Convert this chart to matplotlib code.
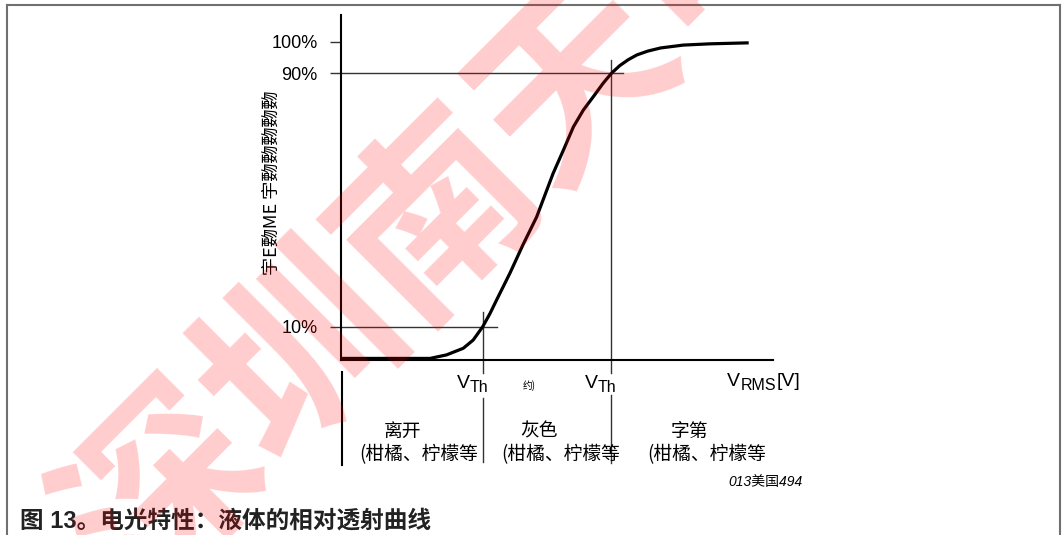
import matplotlib.pyplot as plt
from matplotlib.lines import Line2D

plt.rcParams['font.family'] = ['Liberation Sans', 'Noto Sans CJK SC', 'DejaVu Sans']

# transmission curve (relative voltage vs. relative transmission %)
volt = [0.0, 20.6, 24.4, 28.3, 30.6, 32.8, 34.5, 36.0, 39.1, 42.1, 45.3,
        49.1, 51.5, 53.8, 56.1, 58.4, 60.7, 62.6, 64.5, 66.5, 68.5, 71.0,
        74.0, 79.2, 85.4, 94.0]
trans = [0.0, 0.0, 1.1, 3.2, 5.8, 10.0, 14.2, 18.4, 26.9, 35.8, 44.7,
         58.4, 65.8, 73.1, 78.4, 82.6, 86.9, 90.0, 92.4, 94.3, 95.8, 97.0,
         98.0, 98.9, 99.3, 99.6]

ytick_vals = [10, 90, 100]
ytick_labels = ['10%', '90%', '100%']
v_th10 = 32.8
v_th90 = 62.6

region_titles = ['离开', '灰色', '字第']
region_sub = '(柑橘、柠檬等'
region_x = [403, 539, 690]
region_sub_x = [419, 561, 707]

W, H = 1063, 535


def fx(px):
    return px / W


def fy(py):
    return 1 - py / H


fig = plt.figure(figsize=(W / 100, H / 100), dpi=100)
ax = fig.add_axes([fx(341), fy(360), (773 - 341) / W, (360 - 15) / H])
ax.set_xlim(0, 100)
ax.set_ylim(-0.5, 108.4)
for s in ['top', 'right']:
    ax.spines[s].set_visible(False)
for s in ['left', 'bottom']:
    ax.spines[s].set_linewidth(1.5)
ax.set_xticks([])
ax.set_yticks(ytick_vals)
ax.set_yticklabels(ytick_labels, fontsize=13)
ax.tick_params(axis='y', length=8, width=1, color='#333333', pad=9)

ax.plot(volt, trans, color='black', lw=2.3, solid_joinstyle='round', zorder=3)

# guide lines at 10% and 90%
gc = '#333333'
ax.plot([0, 36.1], [10, 10], color=gc, lw=1)
ax.plot([0, 65.3], [90, 90], color=gc, lw=1)
ax.plot([v_th10, v_th10], [14.6, -4.6], color=gc, lw=1, clip_on=False)
ax.plot([v_th10, v_th10], [-12.5, -32.7], color=gc, lw=1, clip_on=False)
ax.plot([v_th90, v_th90], [94.2, -4.6], color=gc, lw=1, clip_on=False)
ax.plot([v_th90, v_th90], [-11.5, -33.0], color=gc, lw=1, clip_on=False)
ax.plot([0.3, 0.3], [-4.3, -33.6], color='black', lw=1.5, clip_on=False)

ax.set_ylabel('宇E覅ME 宇覅覅覅覅覅', fontsize=13, family=['Noto Sans CJK SC'])
ax.yaxis.set_label_coords((281 - 341) / (773 - 341), (360 - 183) / 345)

# threshold labels, V with a larger subscript
for xr in [485, 613]:
    fig.text(fx(xr - 15), fy(384), 'V', fontsize=14, ha='right', va='center')
    fig.text(fx(xr - 15), fy(388), 'Th', fontsize=11.5, ha='left', va='center')
fig.text(fx(529), fy(386), '约)', fontsize=7, ha='center', va='center',
         family=['Noto Sans CJK SC'])
fig.text(fx(727), fy(381), 'V', fontsize=14, ha='left', va='center')
fig.text(fx(741), fy(385), 'RMS', fontsize=11.5, ha='left', va='center')
fig.text(fx(777), fy(381), '[V]', fontsize=14, ha='left', va='center')

for t, x, x2 in zip(region_titles, region_x, region_sub_x):
    fig.text(fx(x), fy(431), t, fontsize=13.5, ha='center', va='center',
             family=['Noto Sans CJK SC'])
    fig.text(fx(x2), fy(455), region_sub, fontsize=13.5, ha='center',
             va='center', family=['Noto Sans CJK SC'])

fig.text(fx(803), fy(482), '013美国494', fontsize=10, style='italic',
         ha='right', va='center', family=['Liberation Sans', 'Noto Sans CJK SC'])
fig.text(fx(20), fy(522), '图 13。电光特性：液体的相对透射曲线', fontsize=17,
         weight='bold', ha='left', va='center',
         family=['Liberation Sans', 'Noto Sans CJK SC'], color='#222222')

# outer frame
frame_c = '#707070'
fig.add_artist(Line2D([fx(7), fx(1060)], [fy(5), fy(5)], color=frame_c, lw=1.5))
fig.add_artist(Line2D([fx(7), fx(7)], [fy(5), 0], color=frame_c, lw=1.5))
fig.add_artist(Line2D([fx(1060), fx(1060)], [fy(5), 0], color=frame_c, lw=1.5))

# watermark
fig.text(fx(510), fy(150), '深圳南天电子', fontsize=140, color='red', alpha=0.2,
         rotation=45, rotation_mode='anchor', ha='center', va='center',
         weight='bold', family=['Noto Sans CJK SC'], zorder=10)

fig.savefig('out.png', dpi=100)
